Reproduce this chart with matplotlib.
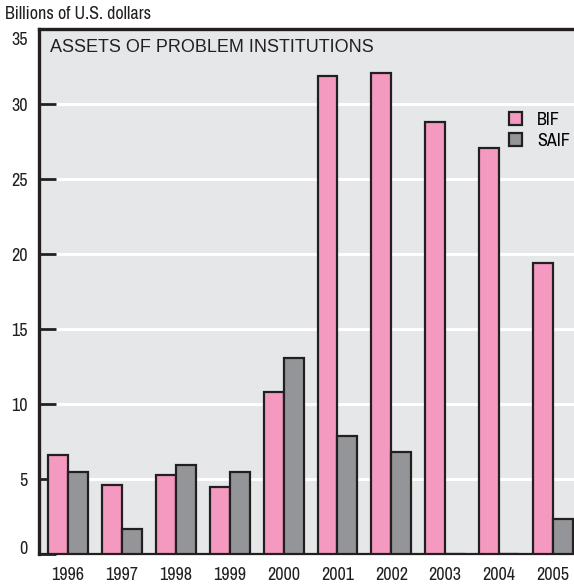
import matplotlib.pyplot as plt
from matplotlib.patches import Patch
from matplotlib.transforms import ScaledTranslation
import numpy as np

plt.rcParams['font.family'] = ['Archivo Narrow', 'Liberation Sans', 'DejaVu Sans']

years = ['1996', '1997', '1998', '1999', '2000', '2001', '2002', '2003', '2004', '2005']
bif = [6.6, 4.6, 5.3, 4.45, 10.8, 31.9, 32.1, 28.8, 27.1, 19.4]
saif = [5.5, 1.7, 5.95, 5.5, 13.1, 7.9, 6.8, 0.0, 0.0, 2.35]
y_ticks = [0, 5, 10, 15, 20, 25, 30, 35]

pink = '#f49ac1'
grey = '#939598'
edge = '#231f20'

fig = plt.figure(figsize=(5.74, 5.84), dpi=100)
ax = fig.add_axes([0.068, 0.051, 0.932, 0.899])
ax.set_facecolor('#e6e7e8')

x = np.arange(len(years))
width = 0.37

ax.bar(x - width / 2, bif, width, color=pink, edgecolor=edge, linewidth=1.6, zorder=3)
ax.bar(x + width / 2, saif, width, color=grey, edgecolor=edge, linewidth=1.6, zorder=3)

ax.set_xlim(-0.54, 9.39)
ax.set_ylim(0, 35)
ax.set_yticks(y_ticks)
ax.set_xticks(x)
ax.set_xticklabels(years, fontsize=13, color='#231f20')
ax.tick_params(axis='x', length=0, pad=9)
ax.tick_params(axis='y', direction='in', length=12, width=2, color=edge,
               labelsize=13, labelcolor='#231f20', pad=8)

# end labels sit inside the frame in the original
labels = ax.get_yticklabels()
labels[-1].set_transform(labels[-1].get_transform() +
                         ScaledTranslation(0, -7 / 72, fig.dpi_scale_trans))
labels[0].set_transform(labels[0].get_transform() +
                        ScaledTranslation(0, 5 / 72, fig.dpi_scale_trans))

for y in y_ticks[1:-1]:
    ax.axhline(y, color='white', linewidth=2.2, zorder=1)

for side in ['left', 'top']:
    ax.spines[side].set_linewidth(2.4)
    ax.spines[side].set_color(edge)
ax.spines['bottom'].set_linewidth(1.6)
ax.spines['bottom'].set_color(edge)
ax.spines['right'].set_visible(False)

ax.text(0.02, 0.982, 'ASSETS OF PROBLEM INSTITUTIONS', transform=ax.transAxes,
        fontsize=13, family=['Liberation Sans', 'DejaVu Sans'], color='#231f20',
        va='top', ha='left')

fig.text(0.009, 0.976, 'Billions of U.S. dollars', fontsize=13, color='#231f20',
         va='center', ha='left')

handles = [Patch(facecolor=pink, edgecolor=edge, linewidth=1.6, label='BIF'),
           Patch(facecolor=grey, edgecolor=edge, linewidth=1.6, label='SAIF')]
ax.legend(handles=handles, loc='upper left', bbox_to_anchor=(0.849, 0.874),
          frameon=False, fontsize=13, handlelength=0.72, handleheight=0.72,
          handletextpad=0.8, labelspacing=0.3)

fig.savefig('out.png', dpi=100)
